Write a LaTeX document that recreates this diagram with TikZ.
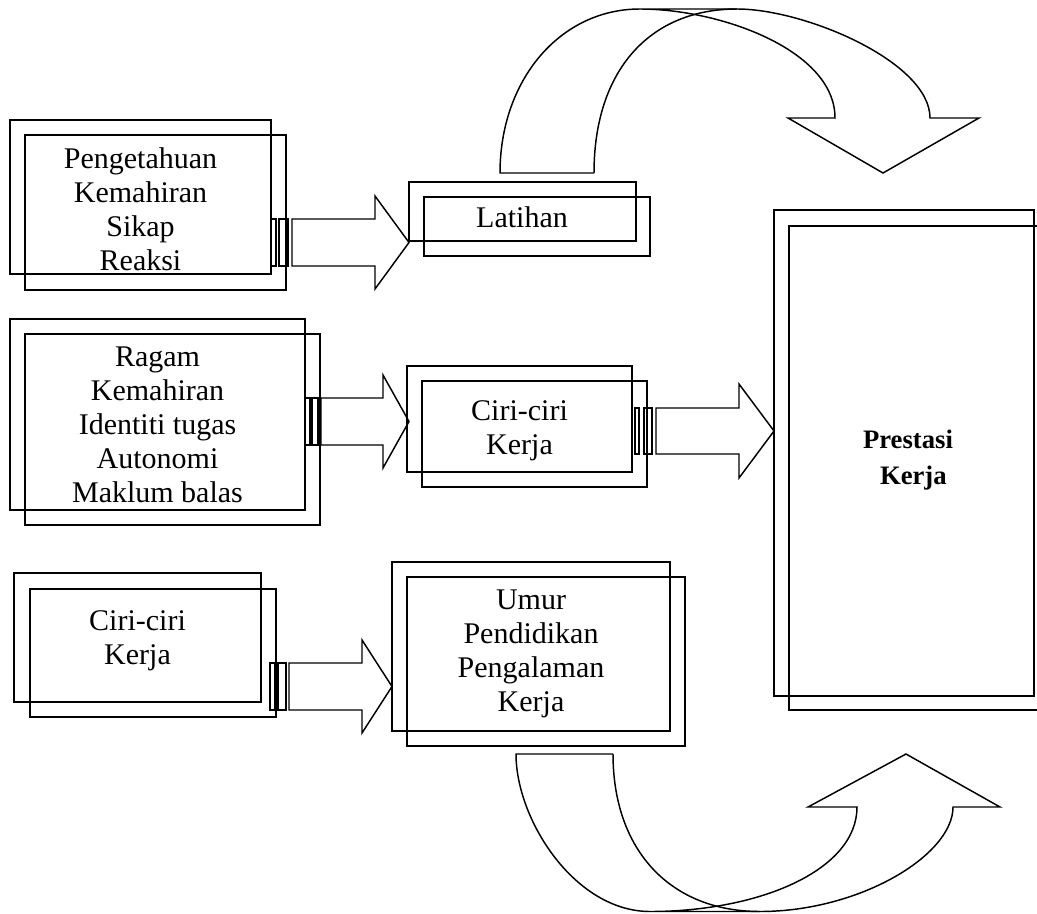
\documentclass[tikz,border=0pt]{standalone}
\usepackage{fontspec}
\setmainfont{Liberation Serif}
\usepackage{tikz}
\tikzset{frame/.style={draw,line width=1.1pt},
	lbl/.style={align=center,inner sep=0pt,font=\fontsize{22.5pt}{25.5pt}\selectfont},
	blockarrow/.style={draw,line width=1.1pt,line join=miter}}

\begin{document}
\begin{tikzpicture}[x=0.75pt,y=-0.75pt]
\useasboundingbox (0,0) rectangle (1037,913);
\clip (0,0) rectangle (1037,913);

\draw[frame] (10,120) rectangle (271,274);
\draw[frame] (25,135) rectangle (286,290);
\node[lbl] (pengetahuan) at (140.5,209) {Pengetahuan\\Kemahiran\\Sikap\\Reaksi};

\draw[frame] (409,182) rectangle (636,241);
\draw[frame] (424,197) rectangle (650,256);
\node[lbl] (latihan) at (522,217.5) {Latihan};

\draw[frame] (10,319) rectangle (305,510);
\draw[frame] (25,334) rectangle (320,525);
\node[lbl] (ragam) at (157.5,425) {Ragam\\Kemahiran\\Identiti tugas\\Autonomi\\Maklum balas};

\draw[frame] (407,366) rectangle (632,472);
\draw[frame] (422,381) rectangle (647,487);
\node[lbl] (ciritugas) at (519.5,431) {Ciri-ciri\\Kerja};

\draw[frame] (14,573) rectangle (261,702);
\draw[frame] (30,589) rectangle (276,717);
\node[lbl] (ciriindividu) at (137.5,641) {Ciri-ciri\\Kerja};

\draw[frame] (392,562) rectangle (670,731);
\draw[frame] (407,577) rectangle (685,746);
\node[lbl] (umur) at (531,654) {Umur\\Pendidikan\\Pengalaman\\Kerja};

\draw[frame] (774,210) rectangle (1034,696);
\draw[frame] (789,226) rectangle (1049,710);
\node[lbl,font=\fontsize{20pt}{27pt}\selectfont\bfseries] (prestasi) at (908,460) {Prestasi\\\hspace*{8pt}Kerja};

\draw[blockarrow] (271,219) rectangle (276,266) (279,219) rectangle (288,266);
\draw[blockarrow] (292,219) -- (375,219) -- (375,196) -- (409,242.5) -- (375,289) -- (375,266) -- (292,266) -- cycle;

\draw[blockarrow] (305,398) rectangle (310,445) (312,398) rectangle (318,445);
\draw[blockarrow] (321,398) -- (383,398) -- (383,375) -- (409,421.5) -- (383,468) -- (383,445) -- (321,445) -- cycle;

\draw[blockarrow] (635,408) rectangle (639,454) (644,408) rectangle (652,454);
\draw[blockarrow] (656,408) -- (739,408) -- (739,384) -- (774,431) -- (739,478) -- (739,454) -- (656,454) -- cycle;

\draw[blockarrow] (270,663) rectangle (275,710) (278,663) rectangle (286,710);
\draw[blockarrow] (289,663) -- (362,663) -- (362,640) -- (392,686.5) -- (362,733) -- (362,710) -- (289,710) -- cycle;

\draw[blockarrow] (594,173) -- (500,173) .. controls (500,80) and (560,9) .. (640,9) -- (737,9)
  .. controls (805,9) and (930,62) .. (930,118) -- (979,118) -- (883,173) -- (788,118) -- (835,118)
  .. controls (835,50) and (720,9) .. (640,9);
\draw[blockarrow] (594,173) .. controls (594,70) and (650,9) .. (737,9);

\draw[blockarrow] (613,754) -- (516,754) .. controls (516,820) and (575,911.5) .. (650,911.5) -- (760,911.5)
  .. controls (860,911.5) and (953,855) .. (953,807) -- (1000,807) -- (906,754) -- (808,807) -- (857,807)
  .. controls (857,870) and (760,911.5) .. (650,911.5);
\draw[blockarrow] (613,754) .. controls (613,850) and (670,911.5) .. (760,911.5);
\end{tikzpicture}
\end{document}
